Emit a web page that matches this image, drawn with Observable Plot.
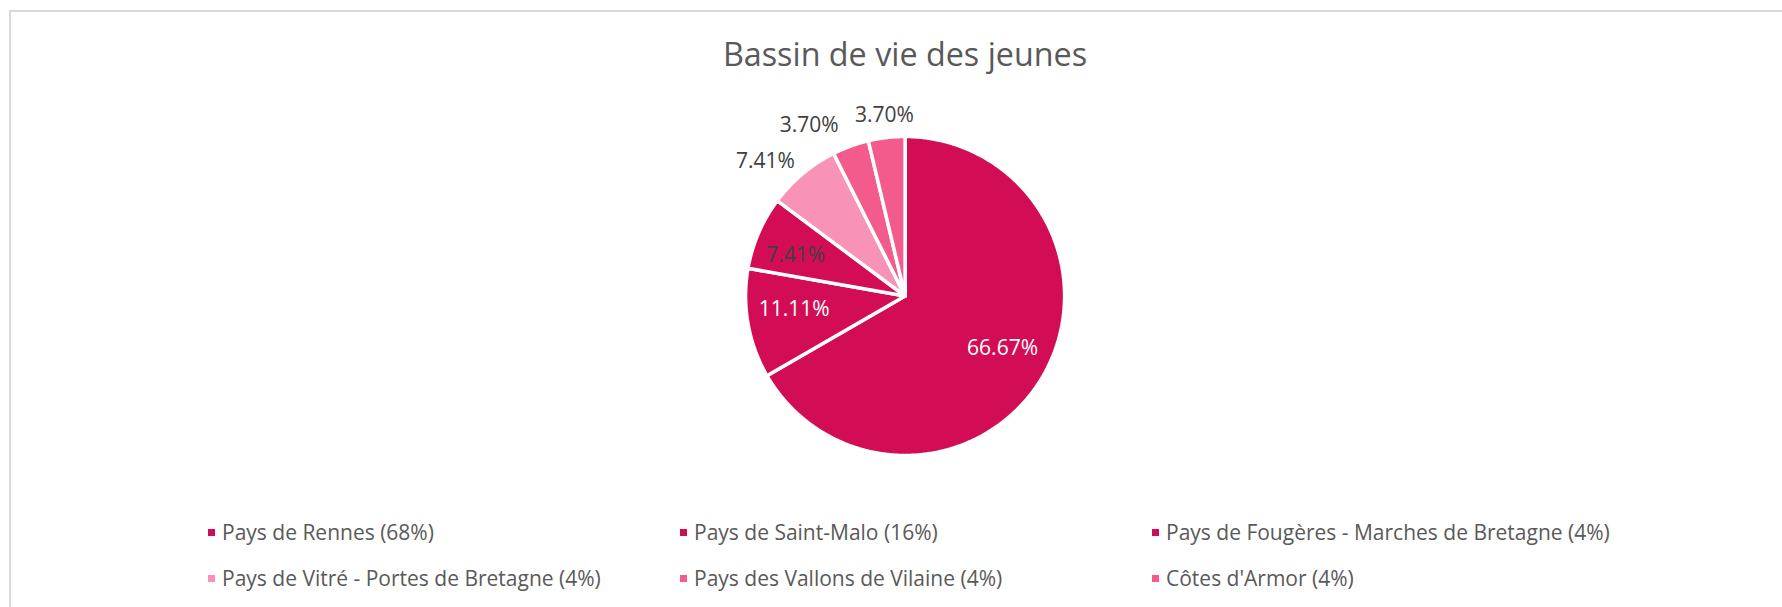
<!DOCTYPE html>
<html>
<head>
<meta charset="utf-8">
<script src="https://cdn.jsdelivr.net/npm/d3@7"></script>
<script src="https://cdn.jsdelivr.net/npm/@observablehq/plot@0.6"></script>
<style>
  html, body { margin: 0; padding: 0; background: #fff; width: 1782px; height: 607px; overflow: hidden; font-family: "Open Sans", sans-serif; }
  #frame { position: absolute; left: 9px; top: 10px; right: -5px; bottom: -5px; border-top: 2px solid #d9d9d9; border-left: 2px solid #d9d9d9; }
  #title { position: absolute; left: 905px; top: 37px; transform: translateX(-50%); font-size: 32.3px; line-height: 32px; color: #595959; white-space: nowrap; }
  #chart { position: absolute; left: 0; top: 90px; }
  #legend { position: absolute; left: 208px; top: 509px; display: grid; grid-template-columns: 472px 472px 472px; grid-auto-rows: 46px; }
  .item { display: flex; align-items: center; font-size: 21px; color: #595959; white-space: nowrap; }
  .sw { width: 7px; height: 7px; margin-right: 7px; flex: none; }
</style>
</head>
<body>
<div id="frame"></div>
<div id="title"></div>
<div id="chart"></div>
<div id="legend"></div>
<script>
// ---- data ----
const title = "Bassin de vie des jeunes";
const regions = [
  "Pays de Rennes",
  "Pays de Saint-Malo",
  "Pays de Fougères - Marches de Bretagne",
  "Pays de Vitré - Portes de Bretagne",
  "Pays des Vallons de Vilaine",
  "Côtes d'Armor"
];
const shares = [66.67, 11.11, 7.41, 7.41, 3.70, 3.70];
const legendLabels = [
  "Pays de Rennes (68%)",
  "Pays de Saint-Malo (16%)",
  "Pays de Fougères - Marches de Bretagne (4%)",
  "Pays de Vitré - Portes de Bretagne (4%)",
  "Pays des Vallons de Vilaine (4%)",
  "Côtes d'Armor (4%)"
];

// ---- styles / layout ----
const colors = ["#D30D55", "#D30D55", "#D30D55", "#F892B6", "#F35B8D", "#F35B8D"];
const labelColors = ["#ffffff", "#ffffff", "#404040", "#404040", "#404040", "#404040"];
const labelRadius = [0.694, 0.70, 0.732, 1.216, 1.227, 1.139];
const labelNudge = [-1.7, 3.3, -3.0, -6.1, -9.4, 0.1]; // degrees
const W = 1782, H = 410, cx = 904.6, cy = 205.5, R = 159.5;

document.getElementById("title").textContent = title;

const pie = d3.pie().sort(null).value(d => d.share).startAngle(0).endAngle(2 * Math.PI);
const rows = regions.map((region, i) => ({region, share: shares[i], i}));
const arcs = pie(rows);

const pts = [];
for (const a of arcs) {
  pts.push({region: a.data.region, x: 0, y: 0});
  const n = Math.max(2, Math.ceil((a.endAngle - a.startAngle) / (Math.PI / 360)));
  for (let k = 0; k <= n; k++) {
    const t = a.startAngle + (a.endAngle - a.startAngle) * k / n;
    pts.push({region: a.data.region, x: Math.sin(t), y: Math.cos(t)});
  }
}

const labels = arcs.map((a, i) => {
  const mid = (a.startAngle + a.endAngle) / 2 + labelNudge[i] * Math.PI / 180;
  return {
    x: labelRadius[i] * Math.sin(mid),
    y: labelRadius[i] * Math.cos(mid),
    text: a.data.share.toFixed(2) + "%",
    color: labelColors[i]
  };
});

const chart = Plot.plot({
  width: W,
  height: H,
  margin: 0,
  x: {domain: [-cx / R, (W - cx) / R], range: [0, W], axis: null},
  y: {domain: [-(H - cy) / R, cy / R], range: [H, 0], axis: null},
  color: {domain: regions, range: colors},
  style: {fontFamily: "Open Sans, sans-serif", background: "transparent"},
  marks: [
    Plot.line(pts, {x: "x", y: "y", z: "region", fill: "region", stroke: "white", strokeWidth: 3.5, curve: "linear-closed"}),
    Plot.text(labels, {x: "x", y: "y", text: "text", fill: "color", fontSize: 21, textAnchor: "middle", lineAnchor: "middle"})
  ]
});
document.getElementById("chart").appendChild(chart);

const legend = document.getElementById("legend");
legendLabels.forEach((lab, i) => {
  const it = document.createElement("div");
  it.className = "item";
  const sw = document.createElement("span");
  sw.className = "sw";
  sw.style.background = colors[i];
  it.appendChild(sw);
  it.appendChild(document.createTextNode(lab));
  legend.appendChild(it);
});
</script>
</body>
</html>
